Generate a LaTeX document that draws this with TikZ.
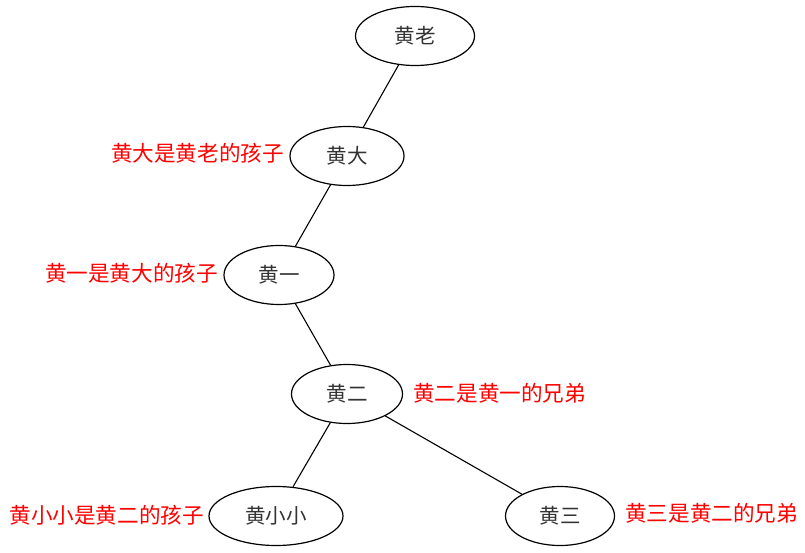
\documentclass[tikz,border=0pt]{standalone}
\usepackage{fontspec}
\setmainfont{Noto Sans CJK SC}
\usetikzlibrary{shapes.geometric}
\tikzset{
  person/.style={ellipse, draw=black, line width=1.2pt, text=black!80, inner sep=0pt, font=\fontsize{20.5}{20.5}\selectfont},
  note/.style={text=red, inner sep=0pt, font=\fontsize{21.6}{21.6}\selectfont},
  link/.style={line width=1.1pt, draw=black}
}
\begin{document}
\begin{tikzpicture}[x=1pt,y=-1pt]
\useasboundingbox[fill=white] (0,0) rectangle (805,553);
\node[person, minimum width=119pt, minimum height=59pt] (lao) at (415,36) {黄老};
\node[person, minimum width=114pt, minimum height=59pt] (da) at (347,156) {黄大};
\node[person, minimum width=110pt, minimum height=59pt] (yi) at (279,275) {黄一};
\node[person, minimum width=111pt, minimum height=59pt] (er) at (347,394) {黄二};
\node[person, minimum width=134pt, minimum height=59pt] (xx) at (276,516) {黄小小};
\node[person, minimum width=109pt, minimum height=59pt] (san) at (560,516) {黄三};
\draw[link] (lao) -- (da);
\draw[link] (da) -- (yi);
\draw[link] (yi) -- (er);
\draw[link] (er) -- (xx);
\draw[link] (er) -- (san);
\node[note, anchor=east] (lda) at (284,153) {黄大是黄老的孩子};
\node[note, anchor=east] (lyi) at (218,273) {黄一是黄大的孩子};
\node[note, anchor=west] (ler) at (413,393) {黄二是黄一的兄弟};
\node[note, anchor=east] (lxx) at (204,515) {黄小小是黄二的孩子};
\node[note, anchor=west] (lsan) at (625,513) {黄三是黄二的兄弟};
\end{tikzpicture}
\end{document}
